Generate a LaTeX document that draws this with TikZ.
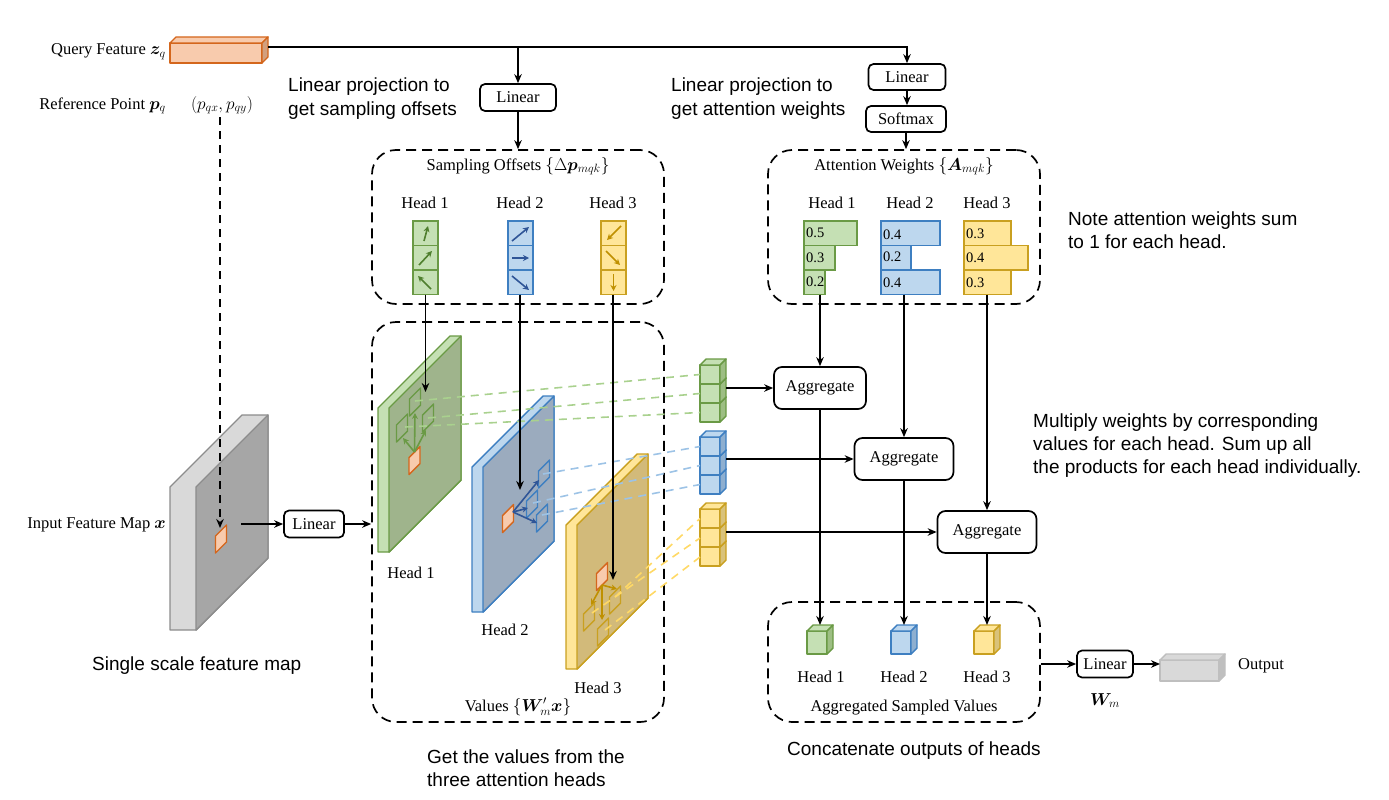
\documentclass[tikz,border=0pt]{standalone}
\usepackage{amsmath}
\usepackage{bm}
\usepackage{fontspec}
\setmainfont{Liberation Serif}
\newfontfamily\annotfont{Liberation Sans}
\usetikzlibrary{arrows.meta}

\definecolor{gF}{HTML}{C5E0B4}
\definecolor{gD}{HTML}{9FB48C}
\definecolor{gS}{HTML}{6A9A45}
\definecolor{gA}{HTML}{4F7F2E}
\definecolor{gSide}{HTML}{9DBE83}
\definecolor{gL}{HTML}{A9D18E}
\definecolor{bF}{HTML}{BDD7EE}
\definecolor{bD}{HTML}{9BABBE}
\definecolor{bS}{HTML}{3E7FC1}
\definecolor{bA}{HTML}{2F5597}
\definecolor{bSide}{HTML}{8EAFD0}
\definecolor{bL}{HTML}{9DC3E6}
\definecolor{yF}{HTML}{FFE699}
\definecolor{yD}{HTML}{D2BA7A}
\definecolor{yS}{HTML}{C9A020}
\definecolor{yA}{HTML}{BF9000}
\definecolor{ySide}{HTML}{D9C27A}
\definecolor{yL}{HTML}{FFD966}
\definecolor{oF}{HTML}{F8CBAD}
\definecolor{oS}{HTML}{D4661C}
\definecolor{oSide}{HTML}{D2A07F}
\definecolor{kF}{HTML}{D9D9D9}
\definecolor{kD}{HTML}{A6A6A6}
\definecolor{kS}{HTML}{8C8C8C}
\definecolor{kSide}{HTML}{BFBFBF}

% x y w h depth frontfill sidefill stroke
\newcommand{\mycuboid}[8]{%
  \draw[draw=#8,fill=#6,line width=1.4pt,line join=round] (#1,#2) rectangle ({#1+#3},{#2+#4});
  \draw[draw=#8,fill=#6,line width=1.4pt,line join=round] (#1,#2) -- ({#1+#5},{#2-#5}) -- ({#1+#3+#5},{#2-#5}) -- ({#1+#3},#2) -- cycle;
  \draw[draw=#8,fill=#7,line width=1.4pt,line join=round] ({#1+#3},#2) -- ({#1+#3+#5},{#2-#5}) -- ({#1+#3+#5},{#2+#4-#5}) -- ({#1+#3},{#2+#4}) -- cycle;}
% x y stripw facew h stripfill facefill stroke
\newcommand{\myslab}[8]{%
  \draw[draw=#8,fill=#6,line width=1.4pt,line join=round] (#1,#2) -- ({#1+#4},{#2-#4}) -- ({#1+#3+#4},{#2-#4}) -- ({#1+#3+#4},{#2-#4+#5}) -- ({#1+#3},{#2+#5}) -- (#1,{#2+#5}) -- cycle;
  \draw[draw=#8,fill=#7,line width=1.4pt,line join=round] ({#1+#3},#2) -- ({#1+#3+#4},{#2-#4}) -- ({#1+#3+#4},{#2-#4+#5}) -- ({#1+#3},{#2+#5}) -- cycle;}
% cx cy style
\newcommand{\mypgram}[3]{%
  \draw[#3,line width=1.4pt,line join=round] ({#1-5.5},{#2-3}) -- ({#1+5.5},{#2-14}) -- ({#1+5.5},{#2+3}) -- ({#1-5.5},{#2+14}) -- cycle;}

\begin{document}
\begin{tikzpicture}[x=1pt,y=-1pt,
  lbl/.style={font=\fontsize{16.5}{19}\selectfont, inner sep=0pt},
  ann/.style={font=\annotfont\fontsize{19}{23}\selectfont, inner sep=0pt, anchor=base west},
  bx/.style={draw, line width=1.7pt, rounded corners=5pt, font=\fontsize{16.5}{19}\selectfont, inner sep=0pt},
  agg/.style={bx, rounded corners=8pt, minimum height=42pt},
  arr/.style={-{Stealth[length=9pt,width=7.5pt]}, line width=1.7pt},
  dbox/.style={draw, line width=1.7pt, dash pattern=on 10pt off 6pt, rounded corners=24pt, inner sep=0pt},
  sarr/.style={-{Stealth[length=6pt,width=6pt]}, line width=1.6pt},
  vline/.style={line width=1.6pt, dash pattern=on 8pt off 6pt},
  num/.style={font=\fontsize{14.5}{16}\selectfont, inner sep=0pt, anchor=west}
]
\useasboundingbox (0,0) rectangle (1389,800);

% ---------- dashed group boxes
\node[dbox, minimum width=292pt, minimum height=154pt] (sobox) at (518,227) {};
\node[dbox, minimum width=272pt, minimum height=154pt] (awbox) at (904,227) {};
\node[dbox, minimum width=292pt, minimum height=400pt] (vbox) at (518,522) {};
\node[dbox, minimum width=272pt, minimum height=120pt] (agbox) at (904,662) {};

% ---------- query / reference
\node[lbl, anchor=base east] (qlab) at (166,55) {Query Feature $\boldsymbol{z}_q$};
\mycuboid{170}{43}{92}{20}{6}{oF}{oSide}{oS}
\coordinate (qend) at (268,47);
\node[lbl, anchor=base east] (rlab) at (166,109) {Reference Point $\boldsymbol{p}_q$};
\node[lbl, anchor=base] (rcoord) at (222,109) {$(p_{qx}, p_{qy})$};

\node[bx, minimum width=76pt, minimum height=27pt] (lin1) at (518,97.5) {Linear};
\node[bx, minimum width=77pt, minimum height=26pt] (lin2) at (907,77) {Linear};
\node[bx, minimum width=80pt, minimum height=26pt] (soft) at (906,119) {Softmax};
\coordinate (j1) at (518,47);
\draw[arr] (qend) -| (lin2.north);
\draw[arr] (j1) -- (lin1.north);
\draw[arr] (lin1.south) -- (sobox.north);
\draw[arr] (lin2.south) -- (lin2.south |- soft.north);
\draw[arr] (soft.south) -- (soft.south |- awbox.north);

\node[ann] (a1) at (288,92) {Linear projection to};
\node[ann] (a2) at (288,115) {get sampling offsets};
\node[ann] (a3) at (671,92) {Linear projection to};
\node[ann] (a4) at (671,115) {get attention weights};
\node[ann] (a5) at (1068,225) {Note attention weights sum};
\node[ann] (a6) at (1068,248) {to 1 for each head.};
\node[ann] (a7) at (1033,427) {Multiply weights by corresponding};
\node[ann] (a8) at (1033,450) {values for each head. Sum up all};
\node[ann] (a9) at (1033,473) {the products for each head individually.};
\node[ann] (a10) at (92,670) {Single scale feature map};
\node[ann] (a11) at (427,763) {Get the values from the};
\node[ann] (a12) at (427,786) {three attention heads};
\node[ann] (a13) at (787,755) {Concatenate outputs of heads};

% ---------- sampling offsets
\node[lbl, anchor=base] (sot) at (518,170) {Sampling Offsets $\{\Delta\boldsymbol{p}_{mqk}\}$};
\node[lbl, anchor=base] (sh1) at (425,208) {Head 1};
\node[lbl, anchor=base] (sh2) at (520,208) {Head 2};
\node[lbl, anchor=base] (sh3) at (613,208) {Head 3};
\foreach \yy in {221,245.5,270} {
  \draw[draw=gS,fill=gF,line width=1.4pt] (413,\yy) rectangle (438,\yy+24.5);
  \draw[draw=bS,fill=bF,line width=1.4pt] (508,\yy) rectangle (533,\yy+24.5);
  \draw[draw=yS,fill=yF,line width=1.4pt] (601,\yy) rectangle (626,\yy+24.5);
}
\draw[sarr,gA] (424,241) -- (428,226);
\draw[sarr,gA] (419,265) -- (432,251);
\draw[sarr,gA] (431,289) -- (418,276);
\draw[sarr,bA] (512,241) -- (529,227);
\draw[sarr,bA] (512,258) -- (529,258);
\draw[sarr,bA] (512,276) -- (529,290);
\draw[sarr,yA] (621,226) -- (607,240);
\draw[sarr,yA] (606,251) -- (620,265);
\draw[sarr,yA] (613.5,274) -- (613.5,291);

% ---------- attention weights
\node[lbl, anchor=base] (awt) at (904,170) {Attention Weights $\{\boldsymbol{A}_{mqk}\}$};
\node[lbl, anchor=base] (ah1) at (832,208) {Head 1};
\node[lbl, anchor=base] (ah2) at (910,208) {Head 2};
\node[lbl, anchor=base] (ah3) at (987,208) {Head 3};
\draw[draw=gS,fill=gF,line width=1.4pt] (804,221) rectangle (857,245.5);
\draw[draw=gS,fill=gF,line width=1.4pt] (804,245.5) rectangle (835,270);
\draw[draw=gS,fill=gF,line width=1.4pt] (804,270) rectangle (825,294.5);
\draw[draw=bS,fill=bF,line width=1.4pt] (881,221) rectangle (940,245.5);
\draw[draw=bS,fill=bF,line width=1.4pt] (881,245.5) rectangle (911,270);
\draw[draw=bS,fill=bF,line width=1.4pt] (881,270) rectangle (940,294.5);
\draw[draw=yS,fill=yF,line width=1.4pt] (964,221) rectangle (1011,245.5);
\draw[draw=yS,fill=yF,line width=1.4pt] (964,245.5) rectangle (1028,270);
\draw[draw=yS,fill=yF,line width=1.4pt] (964,270) rectangle (1011,294.5);
\node[num] (n11) at (806,233) {0.5};
\node[num] (n12) at (806,258) {0.3};
\node[num] (n13) at (806,282) {0.2};
\node[num] (n21) at (883,235) {0.4};
\node[num] (n22) at (883,257) {0.2};
\node[num] (n23) at (883,283) {0.4};
\node[num] (n31) at (966,234) {0.3};
\node[num] (n32) at (966,258) {0.4};
\node[num] (n33) at (966,283) {0.3};

% ---------- input feature map
\node[lbl, anchor=base east] (ilab) at (166,528) {Input Feature Map $\boldsymbol{x}$};
\myslab{170}{487}{26}{72}{143}{kF}{kD}{kS}
\mypgram{221}{539}{draw=oS,fill=oF}
\coordinate (rtop) at (220,117);
\coordinate (rbot) at (220,528);
\draw[arr,vline] (rtop) -- (rbot);
\node[bx, minimum width=60pt, minimum height=27pt] (lin3) at (314,524) {Linear};
\coordinate (gm) at (241,524);
\draw[arr] (gm) -- (lin3.west);
\draw[arr] (lin3.east) -- (lin3 -| vbox.west);

% ---------- value slabs
\myslab{378}{408}{11}{72}{144}{gF}{gD}{gS}
\myslab{472}{467}{11}{71}{145}{bF}{bD}{bS}
\myslab{566}{525}{11}{71}{144}{yF}{yD}{yS}
\node[lbl, anchor=base] (vh1) at (411,578) {Head 1};
\node[lbl, anchor=base] (vh2) at (505,635) {Head 2};
\node[lbl, anchor=base] (vh3) at (598,693) {Head 3};
\node[lbl, anchor=base] (vt) at (518,711) {Values $\{\boldsymbol{W}'_{m}\boldsymbol{x}\}$};

% green sampling
\mypgram{414.5}{460.5}{draw=oS,fill=oF}
\mypgram{415}{402}{draw=gS}
\mypgram{402}{428}{draw=gS}
\mypgram{428}{418}{draw=gS}
\draw[sarr,gS] (414.5,452) -- (415,413);
\draw[sarr,gS] (414.5,452) -- (403,438);
\draw[sarr,gS] (414.5,452) -- (426,430);
% blue sampling
\mypgram{508}{518.5}{draw=oS,fill=oF}
\mypgram{544}{474}{draw=bS}
\mypgram{532}{504}{draw=bS}
\mypgram{542}{518}{draw=bS}
\draw[sarr,bA] (513,512) -- (539,480);
\draw[sarr,bA] (513,512) -- (528,508);
\draw[sarr,bA] (513,512) -- (537,523);
% yellow sampling
\mypgram{602}{576.5}{draw=oS,fill=oF}
\mypgram{615}{600}{draw=yS}
\mypgram{589}{617}{draw=yS}
\mypgram{603}{632}{draw=yS}
\draw[sarr,yA] (602,585) -- (617,589);
\draw[sarr,yA] (602,585) -- (591,605);
\draw[sarr,yA] (602,585) -- (602,620);

% ---------- value stacks
\mycuboid{700}{403}{20}{19}{6}{gF}{gSide}{gS}
\mycuboid{700}{384}{20}{19}{6}{gF}{gSide}{gS}
\mycuboid{700}{365}{20}{19}{6}{gF}{gSide}{gS}
\mycuboid{700}{475}{20}{19}{6}{bF}{bSide}{bS}
\mycuboid{700}{456}{20}{19}{6}{bF}{bSide}{bS}
\mycuboid{700}{437}{20}{19}{6}{bF}{bSide}{bS}
\mycuboid{700}{547}{20}{19}{6}{yF}{ySide}{yS}
\mycuboid{700}{528}{20}{19}{6}{yF}{ySide}{yS}
\mycuboid{700}{509}{20}{19}{6}{yF}{ySide}{yS}

% dashed sampling lines
\draw[vline,gL] (415,401) -- (700,374.5);
\draw[vline,gL] (428,418) -- (700,393.5);
\draw[vline,gL] (405,427) -- (700,412.5);
\draw[vline,bL] (543,474) -- (700,446.5);
\draw[vline,bL] (533,503) -- (700,465.5);
\draw[vline,bL] (542,515) -- (700,484.5);
\draw[vline,yL] (615,597) -- (700,518.5);
\draw[vline,yL] (592,613) -- (700,538);
\draw[vline,yL] (605,630) -- (700,557);

% offsets arrows into slabs
\coordinate (o1) at (425.5,294.5);
\coordinate (o2) at (520,294.5);
\coordinate (o3) at (613,294.5);
\coordinate (t1) at (425.5,392);
\coordinate (t2) at (520,490);
\coordinate (t3) at (613,580);
\draw[arr] (o1) -- (t1);
\draw[arr] (o2) -- (t2);
\draw[arr] (o3) -- (t3);

% ---------- aggregates
\node[agg, minimum width=92pt] (agg1) at (820,388) {Aggregate};
\node[agg, minimum width=99pt] (agg2) at (904,459) {Aggregate};
\node[agg, minimum width=99pt] (agg3) at (987,532) {Aggregate};
\coordinate (w1) at (820,294.5);
\coordinate (w2) at (904,294.5);
\coordinate (w3) at (987,294.5);
\draw[arr] (w1) -- (agg1.north);
\draw[arr] (w2) -- (agg2.north);
\draw[arr] (w3) -- (agg3.north);
\coordinate (sg) at (726,388);
\coordinate (sb) at (726,459);
\coordinate (sy) at (726,532);
\draw[arr] (sg) -- (agg1.west);
\draw[arr] (sb) -- (agg2.west);
\draw[arr] (sy) -- (agg3.west);

% ---------- aggregated sampled values
\mycuboid{807}{631}{20}{23}{6}{gF}{gSide}{gS}
\mycuboid{891}{631}{20}{23}{6}{bF}{bSide}{bS}
\mycuboid{974}{631}{20}{23}{6}{yF}{ySide}{yS}
\coordinate (c1) at (820,625);
\coordinate (c2) at (904,625);
\coordinate (c3) at (987,625);
\draw[arr] (agg1.south) -- (c1);
\draw[arr] (agg2.south) -- (c2);
\draw[arr] (agg3.south) -- (c3);
\node[lbl, anchor=base] (gh1) at (821,682) {Head 1};
\node[lbl, anchor=base] (gh2) at (904,682) {Head 2};
\node[lbl, anchor=base] (gh3) at (987,682) {Head 3};
\node[lbl, anchor=base] (gt) at (904,711) {Aggregated Sampled Values};

% ---------- output
\node[bx, minimum width=56pt, minimum height=27pt] (lin4) at (1105,664) {Linear};
\draw[arr] (agbox.east |- lin4) -- (lin4.west);
\mycuboid{1160}{660}{59}{21}{6}{kF}{kSide}{kSide}
\coordinate (oin) at (1160,664);
\draw[arr] (lin4.east) -- (oin);
\node[lbl, anchor=base west] (outl) at (1238,669) {Output};
\node[lbl, anchor=base] (wm) at (1105,705) {$\boldsymbol{W}_m$};
\end{tikzpicture}
\end{document}
